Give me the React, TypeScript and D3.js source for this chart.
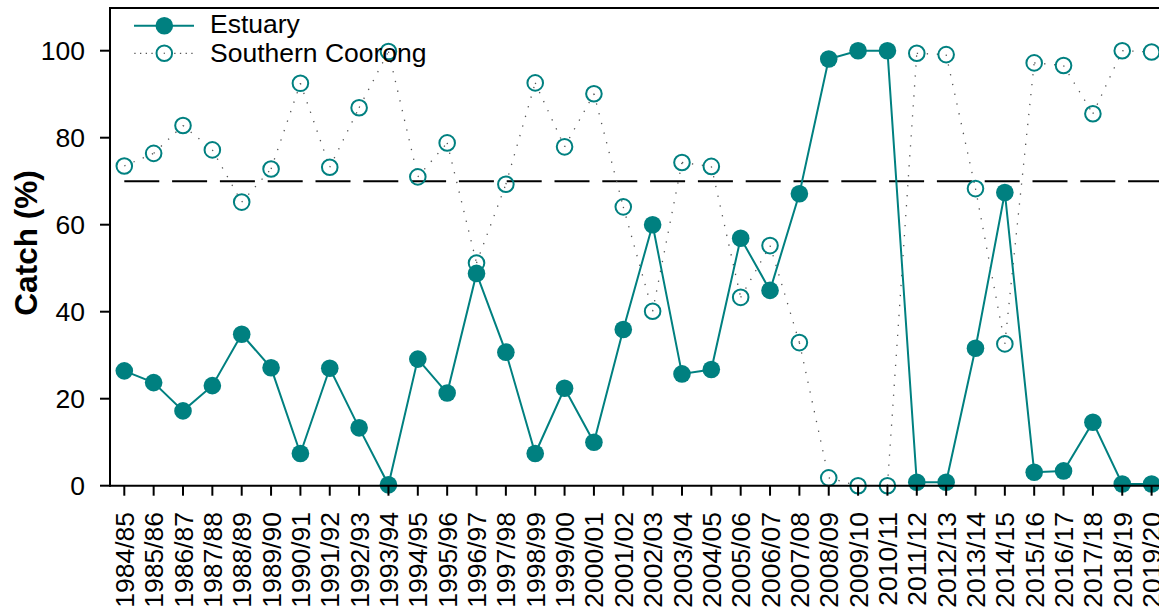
import React from "react";
import * as d3 from "d3";

const seasons = [
  "1984/85","1985/86","1986/87","1987/88","1988/89","1989/90","1990/91","1991/92","1992/93","1993/94",
  "1994/95","1995/96","1996/97","1997/98","1998/99","1999/00","2000/01","2001/02","2002/03","2003/04",
  "2004/05","2005/06","2006/07","2007/08","2008/09","2009/10","2010/11","2011/12","2012/13","2013/14",
  "2014/15","2015/16","2016/17","2017/18","2018/19","2019/20",
];

const estuary = [
  26.4, 23.7, 17.2, 23.0, 34.8, 27.1, 7.4, 27.0, 13.3, 0.2,
  29.1, 21.3, 48.8, 30.7, 7.4, 22.4, 10.0, 35.9, 60.0, 25.7,
  26.7, 56.9, 44.9, 67.1, 98.1, 100, 100, 0.8, 0.8, 31.6,
  67.4, 3.1, 3.4, 14.6, 0.4, 0.4,
];

const southernCoorong = [
  73.5, 76.4, 82.8, 77.2, 65.2, 72.8, 92.5, 73.2, 86.9, 99.8,
  71.0, 78.8, 51.2, 69.3, 92.6, 77.9, 90.1, 64.1, 40.1, 74.3,
  73.4, 43.3, 55.2, 32.9, 1.8, 0, 0, 99.4, 99.1, 68.3,
  32.6, 97.2, 96.6, 85.5, 100, 99.7,
];

const yTicks = [0, 20, 40, 60, 80, 100];
const threshold = 70;
const seriesNames = ["Estuary", "Southern Coorong"];

const TEAL = "#008080";
const DOT = "#555";
const FONT = "'Liberation Sans', Arial, Helvetica, sans-serif";

export default function App() {
  const W = 1159;
  const H = 607;
  const axisX = 110;
  const topY = 8;
  const x = d3.scalePoint<string>().domain(seasons).range([124.3, 1151.6]);
  const y = d3.scaleLinear().domain([0, 100]).range([485.7, 50.7]);
  const y0 = y(0);

  const estLine = d3
    .line<number>()
    .x((_, i) => x(seasons[i]) as number)
    .y((d) => y(d))(estuary) as string;

  const scSegments = southernCoorong.slice(0, -1).map((v, i) => ({
    x1: x(seasons[i]) as number,
    y1: y(v),
    x2: x(seasons[i + 1]) as number,
    y2: y(southernCoorong[i + 1]),
  }));

  return (
    <svg
      width={W}
      height={H}
      style={{ position: "absolute", left: 0, top: 0, display: "block" }}
      fontFamily={FONT}
    >
      <rect x={0} y={0} width={W} height={H} fill="#fff" />

      {/* threshold dashed line */}
      <line
        x1={x(seasons[0])}
        x2={W + 10}
        y1={y(threshold)}
        y2={y(threshold)}
        stroke="#000"
        strokeWidth={2}
        strokeDasharray="35 12.8"
      />

      {/* Southern Coorong dotted segments */}
      {scSegments.map((s, i) => (
        <line
          key={"sc" + i}
          x1={s.x1}
          y1={s.y1}
          x2={s.x2}
          y2={s.y2}
          stroke={DOT}
          strokeWidth={1.3}
          strokeDasharray="1.3 8.7"
        />
      ))}
      {southernCoorong.map((v, i) => (
        <circle
          key={"scp" + i}
          cx={x(seasons[i])}
          cy={y(v)}
          r={7.8}
          fill="none"
          stroke={TEAL}
          strokeWidth={2}
        />
      ))}

      {/* Estuary */}
      <path d={estLine} fill="none" stroke={TEAL} strokeWidth={2} />
      {estuary.map((v, i) => (
        <circle key={"ep" + i} cx={x(seasons[i])} cy={y(v)} r={8.8} fill={TEAL} />
      ))}

      {/* frame */}
      <line x1={axisX} x2={W + 10} y1={topY} y2={topY} stroke="#000" strokeWidth={2} />
      <line x1={axisX} x2={axisX} y1={topY - 1} y2={y0 + 1} stroke="#000" strokeWidth={2} />
      <line x1={axisX} x2={W + 10} y1={y0} y2={y0} stroke="#000" strokeWidth={2} />

      {/* y axis ticks */}
      {yTicks.map((t) => (
        <g key={"yt" + t}>
          <line x1={axisX - 10} x2={axisX} y1={y(t)} y2={y(t)} stroke="#000" strokeWidth={2} />
          <text
            x={85}
            y={y(t)}
            dy="0.36em"
            textAnchor="end"
            fontSize={26.5}
            fill="#000"
          >
            {t}
          </text>
        </g>
      ))}

      {/* x axis ticks */}
      {seasons.map((s) => (
        <g key={"xt" + s}>
          <line
            x1={x(s)}
            x2={x(s)}
            y1={y0}
            y2={y0 + 10}
            stroke="#000"
            strokeWidth={2}
          />
          <text
            transform={`translate(${x(s)},${512}) rotate(-90)`}
            dy="0.36em"
            textAnchor="end"
            fontSize={26.5}
            fill="#000"
          >
            {s}
          </text>
        </g>
      ))}

      {/* y title */}
      <text
        transform={`translate(37,243) rotate(-90)`}
        textAnchor="middle"
        fontSize={31.5}
        fontWeight="bold"
        fill="#000"
      >
        Catch (%)
      </text>

      {/* legend */}
      <g>
        <line x1={134} x2={194} y1={25.7} y2={25.7} stroke={TEAL} strokeWidth={2} />
        <circle cx={164.3} cy={25.7} r={8.8} fill={TEAL} />
        <text x={210} y={33} fontSize={26.5} fill="#000">
          {seriesNames[0]}
        </text>

        <line
          x1={134.3}
          x2={194}
          y1={53.3}
          y2={53.3}
          stroke={DOT}
          strokeWidth={1.3}
          strokeDasharray="1.3 4.4"
        />
        <circle cx={164.3} cy={53.3} r={7.8} fill="#fff" stroke={TEAL} strokeWidth={2} />
        <circle cx={164.3} cy={53.3} r={0.7} fill={DOT} />
        <text x={210} y={61.5} fontSize={26.5} fill="#000">
          {seriesNames[1]}
        </text>
      </g>
    </svg>
  );
}
